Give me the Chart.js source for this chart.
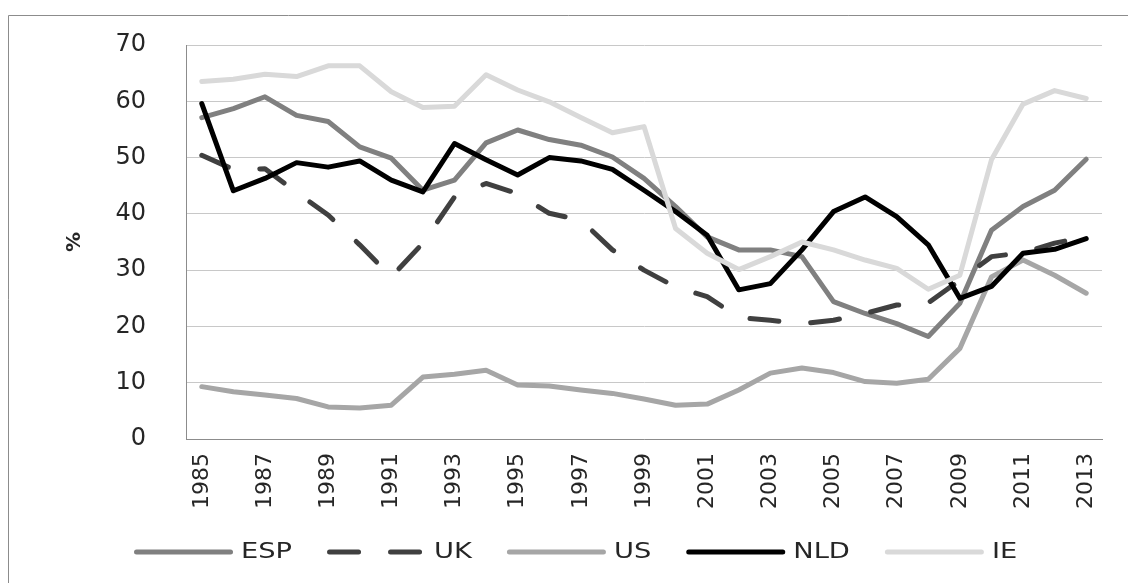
<!DOCTYPE html>
<html>
<head>
<meta charset="utf-8">
<script src="https://cdn.jsdelivr.net/npm/chart.js@4.4.0/dist/chart.umd.min.js"></script>
<style>
  html, body { margin: 0; padding: 0; background: #ffffff; }
  #wrap { position: relative; width: 1128px; height: 583px; }
  canvas { display: block; }
</style>
</head>
<body>
<div id="wrap"><canvas id="c" width="1128" height="583"></canvas></div>
<script>
const years = ['1985','1986','1987','1988','1989','1990','1991','1992','1993','1994','1995','1996','1997','1998','1999','2000','2001','2002','2003','2004','2005','2006','2007','2008','2009','2010','2011','2012','2013'];
const yTicks = [0, 10, 20, 30, 40, 50, 60, 70];
const ESP = [57.1, 58.7, 60.8, 57.5, 56.4, 51.9, 49.9, 44.2, 46.0, 52.6, 54.9, 53.2, 52.2, 50.1, 46.3, 41.3, 35.9, 33.6, 33.6, 32.4, 24.4, 22.3, 20.5, 18.2, 24.1, 37.1, 41.3, 44.2, 49.7];
const UK  = [50.4, 47.9, 48.0, 43.8, 39.8, 34.5, 28.8, 34.8, 43.0, 45.4, 43.6, 40.1, 38.9, 33.6, 30.0, 27.0, 25.3, 21.6, 21.1, 20.5, 21.1, 22.3, 23.8, 24.2, 28.2, 32.4, 33.1, 34.8, 35.9];
const US  = [9.3, 8.4, 7.8, 7.2, 5.7, 5.5, 6.0, 11.0, 11.5, 12.2, 9.6, 9.4, 8.7, 8.1, 7.1, 6.0, 6.2, 8.7, 11.7, 12.6, 11.8, 10.2, 9.9, 10.6, 16.1, 28.8, 31.8, 29.1, 25.9];
const NLD = [59.6, 44.1, 46.3, 49.1, 48.3, 49.4, 46.0, 43.9, 52.5, 49.6, 46.9, 50.0, 49.4, 47.9, 44.2, 40.4, 36.2, 26.5, 27.6, 33.6, 40.4, 43.0, 39.5, 34.5, 25.0, 27.1, 33.0, 33.7, 35.6];
const IE  = [63.5, 63.9, 64.8, 64.4, 66.3, 66.3, 61.7, 58.9, 59.1, 64.7, 62.0, 59.9, 57.1, 54.4, 55.5, 37.4, 33.0, 30.1, 32.4, 35.0, 33.6, 31.8, 30.3, 26.6, 29.1, 49.6, 59.5, 61.9, 60.5];
const seriesNames = ['ESP', 'UK', 'US', 'NLD', 'IE'];

const FONT = 'DejaVu Sans';
const TEXT = '#262626';

function ds(label, data, color, order, dash) {
  return {
    label: label, data: data, borderColor: color, backgroundColor: color,
    borderWidth: 5, pointRadius: 0, pointHoverRadius: 0, tension: 0,
    borderJoinStyle: 'round', borderCapStyle: 'round',
    borderDash: dash || [], fill: false, order: order
  };
}

const frame = {
  id: 'frame',
  beforeDraw(chart) {
    const ctx = chart.ctx;
    ctx.save();
    ctx.fillStyle = '#ffffff';
    ctx.fillRect(0, 0, chart.width, chart.height);
    ctx.strokeStyle = '#8c8c8c';
    ctx.lineWidth = 1;
    ctx.beginPath();
    ctx.moveTo(8.5, chart.height);
    ctx.lineTo(8.5, 15.5);
    ctx.lineTo(chart.width, 15.5);
    ctx.stroke();
    ctx.restore();
  }
};

const legendPlugin = {
  id: 'customLegend',
  afterDraw(chart) {
    const ctx = chart.ctx;
    const y = 552;
    let x = 134;
    const lineLen = 99;
    const sx = 1.3;
    ctx.save();
    ctx.font = '21px "' + FONT + '"';
    ctx.textBaseline = 'middle';
    chart.data.datasets.forEach(d => {
      ctx.strokeStyle = d.borderColor;
      ctx.lineWidth = 5;
      ctx.lineCap = 'round';
      ctx.setLineDash(d.borderDash && d.borderDash.length ? [29, 32] : []);
      ctx.beginPath();
      ctx.moveTo(x + 2.5, y);
      ctx.lineTo(x + lineLen - 2.5, y);
      ctx.stroke();
      ctx.setLineDash([]);
      const tx = x + lineLen + 8;
      ctx.save();
      ctx.translate(tx, y + 1);
      ctx.scale(sx, 1);
      ctx.fillStyle = TEXT;
      ctx.fillText(d.label, 0, 0);
      ctx.restore();
      const w = ctx.measureText(d.label).width * sx;
      x = tx + w + 35;
    });
    ctx.restore();
  }
};

new Chart(document.getElementById('c'), {
  type: 'line',
  data: {
    labels: years,
    datasets: [
      ds(seriesNames[0], ESP, '#808080', 5),
      ds(seriesNames[1], UK, '#404040', 4, [29, 32]),
      ds(seriesNames[2], US, '#a6a6a6', 3),
      ds(seriesNames[3], NLD, '#000000', 2),
      ds(seriesNames[4], IE, '#d9d9d9', 1)
    ]
  },
  options: {
    responsive: false,
    animation: false,
    layout: { padding: { top: 45, right: 26, left: 0, bottom: 0 } },
    plugins: { legend: { display: false }, tooltip: { enabled: false } },
    scales: {
      x: {
        type: 'category',
        offset: true,
        grid: { display: false, drawTicks: false },
        border: { display: true, color: '#8c8c8c', width: 1 },
        ticks: {
          autoSkip: false, minRotation: 90, maxRotation: 90, padding: 14,
          color: TEXT, font: { family: FONT, size: 22 },
          callback: function (v, i) { return i % 2 === 0 ? this.getLabelForValue(v) : ''; }
        },
        afterFit(s) { s.height = 144; s.paddingTop = 0; s.paddingBottom = 0; }
      },
      y: {
        min: yTicks[0], max: yTicks[yTicks.length - 1],
        afterBuildTicks(s) { s.ticks = yTicks.map(v => ({ value: v })); },
        grid: { color: '#c8c8c8', lineWidth: 1, drawTicks: false },
        border: { display: true, color: '#8c8c8c', width: 1 },
        ticks: { padding: 40, color: TEXT, font: { family: FONT, size: 24 } },
        title: {
          display: true, text: '%', color: TEXT,
          font: { family: FONT, size: 20, weight: 'bold' },
          padding: { top: 63, bottom: 0 }
        },
        afterFit(s) { s.width = 186; s.paddingTop = 0; s.paddingBottom = 0; }
      }
    }
  },
  plugins: [frame, legendPlugin]
});
</script>
</body>
</html>
